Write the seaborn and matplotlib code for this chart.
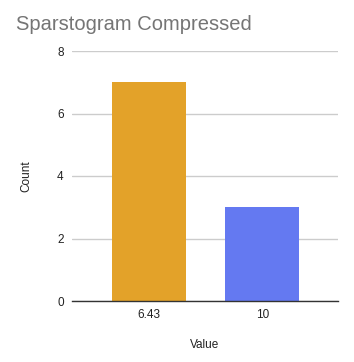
import matplotlib
matplotlib.use("Agg")
import matplotlib.pyplot as plt
import seaborn as sns
import pandas as pd

categories = ["6.43", "10"]
counts = [7, 3]
colors = ["#E3A229", "#6479F1"]

df = pd.DataFrame({"Value": categories, "Count": counts})

sns.set_style("white")
plt.rcParams['font.family'] = ['Liberation Sans', 'DejaVu Sans']

fig = plt.figure(figsize=(3.54, 3.62), dpi=100)
ax = fig.add_axes([72/354, 1-301/362, (338-72)/354, (301-51)/362])

sns.barplot(data=df, x="Value", y="Count", hue="Value", palette=colors,
            width=0.65, legend=False, ax=ax, saturation=1, linewidth=0)

ax.set_xlim(-0.675, 1.667)
ax.set_ylim(0, 8)
ax.set_yticks([0, 2, 4, 6, 8])
ax.yaxis.grid(True, color="#CCCCCC", linewidth=1)
ax.set_axisbelow(True)
for s in ["top", "right", "left"]:
    ax.spines[s].set_visible(False)
ax.spines["bottom"].set_color("#333333")
ax.spines["bottom"].set_linewidth(1)
ax.tick_params(axis="both", length=0, labelsize=8.5, colors="#222222", pad=6)
ax.set_xlabel("Value", fontsize=8.5, color="#222222", labelpad=13)
ax.set_ylabel("Count", fontsize=8.5, color="#222222", labelpad=18)

fig.text(16/354, 1-25/362, "Sparstogram Compressed", fontsize=14.5, color="#757575",
         ha="left", va="center")

fig.savefig("out.png", dpi=100)
